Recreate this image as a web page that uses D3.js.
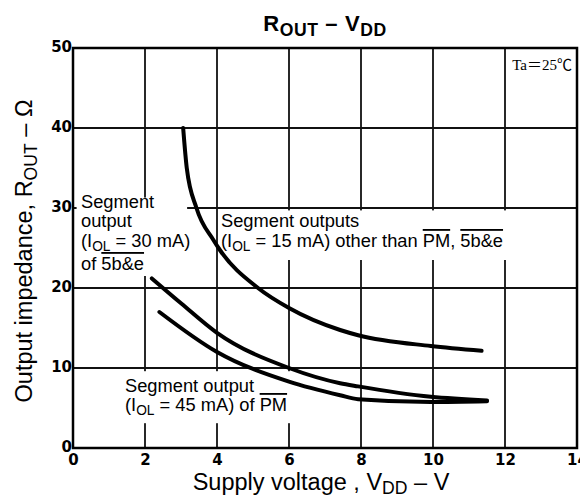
<!DOCTYPE html>
<head>
  <meta charset="utf-8">
  <style>
    body { margin:0; background:#fff; }
    .tick-label { font-family:"DejaVu Sans"; font-weight:bold; font-size:15px; }
    .note { font-family:"Liberation Sans", Arial, sans-serif; font-size:18.3px; }
    .axis-title { font-family:"Liberation Sans", Arial, sans-serif; font-size:23.5px; }
    #title { font-family:"Liberation Sans", Arial, sans-serif; font-weight:bold; font-size:22px; }
  </style>
</head>
<body>
  <script src="https://d3js.org/d3.v7.min.js"></script>
  <script>
    // DATA
    var xTicks = [0, 2, 4, 6, 8, 10, 12, 14];
    var yTicks = [0, 10, 20, 30, 40, 50];

    // Segment outputs, IOL = 15 mA
    var vdd15  = [3.06, 3.16, 3.43, 3.9, 4.08, 5.14, 6.0, 7.42, 7.92, 9.94, 11.35];
    var rout15 = [40,   35,   30,   26,  24.75, 20,  17.5, 14.75, 14.1, 12.75, 12.15];
    // Segment output 5b&e, IOL = 30 mA
    var vdd30  = [2.19, 3.0, 4.0, 6.0, 7.42, 7.92, 9.94, 11.5];
    var rout30 = [21.2, 18.1, 14.4, 10.0, 8.1, 7.7, 6.4, 5.95];
    // Segment output PM, IOL = 45 mA
    var vdd45  = [2.4, 4.0, 6.0, 7.42, 7.92, 9.94, 11.5];
    var rout45 = [17.0, 12.0, 8.3, 6.6, 6.1, 5.75, 5.85];

    var width = 580, height = 499;

    var x = d3.scaleLinear().domain([0, 14]).range([73, 577]);
    var y = d3.scaleLinear().domain([0, 50]).range([448, 48]);

    var svg = d3.select("body").append("svg")
      .attr("width", width)
      .attr("height", height);

    // GRID
    var grid = svg.append("g").attr("stroke", "#111").attr("stroke-width", 1.8);
    grid.selectAll("line.v")
      .data(xTicks.slice(1, -1))
      .enter().append("line")
        .attr("x1", d => x(d)).attr("x2", d => x(d))
        .attr("y1", y(50)).attr("y2", y(0));
    grid.selectAll("line.h")
      .data(yTicks.slice(1, -1))
      .enter().append("line")
        .attr("x1", x(0)).attr("x2", x(14))
        .attr("y1", d => y(d)).attr("y2", d => y(d));

    // white masks where the labels break the grid
    var masks = [
      [0.1, 3.17, 21.5, 31.3],   // left label
      [4.1, 13.5, 23.5, 29.7],   // top right label
      [12.2, 13.95, 43.9, 49.7], // Ta box
      [1.3, 6.3, 3.1, 9.6]       // bottom label
    ];
    svg.selectAll("rect.mask")
      .data(masks)
      .enter().append("rect")
        .attr("fill", "#fff")
        .attr("x", d => x(d[0]))
        .attr("width", d => x(d[1]) - x(d[0]))
        .attr("y", d => y(d[3]))
        .attr("height", d => y(d[2]) - y(d[3]));

    // FRAME
    svg.append("rect")
      .attr("x", x(0)).attr("y", y(50))
      .attr("width", x(14) - x(0)).attr("height", y(0) - y(50))
      .attr("fill", "none").attr("stroke", "#000").attr("stroke-width", 2.5);

    // AXES (labels only)
    var xAxis = svg.append("g")
      .attr("transform", "translate(0," + y(0) + ")")
      .call(d3.axisBottom(x).tickValues(xTicks).tickSize(0).tickPadding(6));
    var yAxis = svg.append("g")
      .attr("transform", "translate(" + x(0) + ",0)")
      .call(d3.axisLeft(y).tickValues(yTicks).tickSize(0).tickPadding(1));
    [xAxis, yAxis].forEach(function(a) {
      a.select(".domain").remove();
      a.selectAll("text").attr("class", "tick-label").attr("fill", "#000");
      a.attr("font-size", null).attr("font-family", null);
    });
    yAxis.selectAll("text").attr("dy", "0.2em");

    // CURVES
    var line = d3.line()
      .x(d => x(d[0]))
      .y(d => y(d[1]))
      .curve(d3.curveMonotoneX);

    var curves = [d3.zip(vdd15, rout15), d3.zip(vdd30, rout30), d3.zip(vdd45, rout45)];
    svg.selectAll("path.curve")
      .data(curves)
      .enter().append("path")
        .attr("fill", "none")
        .attr("stroke", "#000")
        .attr("stroke-width", 4)
        .attr("stroke-linecap", "round")
        .attr("d", line);

    // TEXT HELPER
    // parts: [text, "sub"|"over"|null]
    function richLine(parent, parts, px, py, subSize, shift) {
      subSize = subSize || 0.75;
      shift = shift || 0.3;
      var t = parent.append("text").attr("x", px).attr("y", py);
      var lastSub = false;
      parts.forEach(function(p) {
        var s = t.append("tspan").text(p[0]);
        if (lastSub) s.attr("dy", (-shift * subSize) + "em");
        lastSub = false;
        if (p[1] === "sub") {
          s.attr("dy", shift + "em").style("font-size", subSize + "em");
          lastSub = true;
        } else if (p[1] === "over") {
          s.style("text-decoration", "overline");
        }
      });
      return t;
    }

    var notes = svg.append("g").attr("class", "note");

    richLine(notes, [["Segment"]], 81, 208);
    richLine(notes, [["output"]], 81, 227);
    richLine(notes, [["(I"], ["OL", "sub"], [" = 30 mA)"]], 81, 247);
    richLine(notes, [["of "], ["5b&e", "over"]], 81, 270);

    richLine(notes, [["Segment outputs"]], 221, 227);
    richLine(notes, [["(I"], ["OL", "sub"], [" = 15 mA) other than "], ["PM", "over"], [", "], ["5b&e", "over"]], 221, 247);

    richLine(notes, [["Segment output"]], 125, 392);
    richLine(notes, [["(I"], ["OL", "sub"], [" = 45 mA) of "], ["PM", "over"]], 125, 411);

    svg.append("text")
      .attr("x", 572).attr("y", 70)
      .attr("text-anchor", "end")
      .style("font-family", "'Liberation Serif', 'Noto Sans CJK JP', serif")
      .style("font-size", "15px")
      .text("Ta\uff1d25\u2103");

    // TITLES
    richLine(svg, [["R"], ["OUT", "sub"], [" \u2013 V"], ["DD", "sub"]], 325, 31, 0.8)
      .attr("id", "title").attr("text-anchor", "middle")
      .style("letter-spacing", "0.6px");

    richLine(svg, [["Supply voltage , V"], ["DD", "sub"], [" \u2013 V"]], 321, 490, 0.75, 0.2)
      .attr("class", "axis-title").attr("text-anchor", "middle");

    richLine(svg, [["Output impedance,  R"], ["OUT", "sub"], [" \u2013 \u03a9"]], 0, 0)
      .attr("class", "axis-title").attr("text-anchor", "middle")
      .attr("transform", "translate(32,251) rotate(-90)");
  </script>
</body>
